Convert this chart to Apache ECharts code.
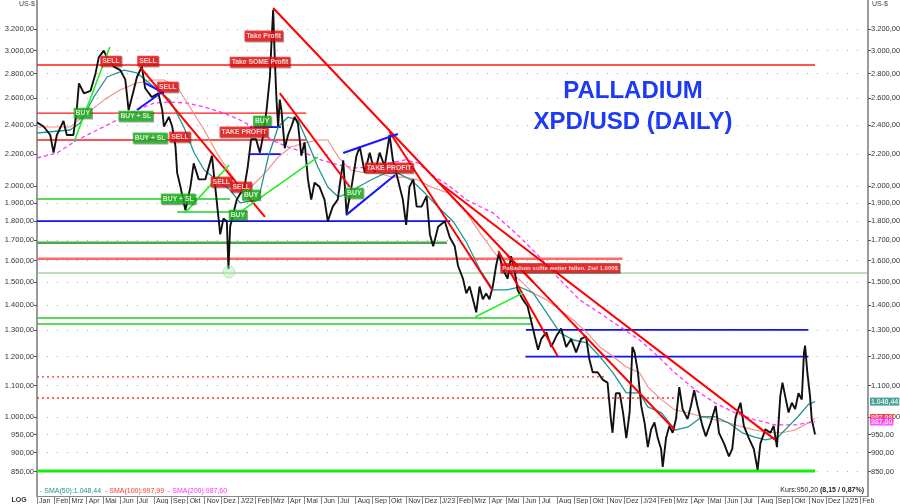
<!DOCTYPE html>
<html><head><meta charset="utf-8">
<script src="https://cdn.jsdelivr.net/npm/echarts@6/dist/echarts.min.js"></script>
<style>html,body{margin:0;padding:0;background:#fff}#c{width:900px;height:504px}</style>
</head><body><div id="c"></div>
<script>
// ---------- DATA ----------
const priceTicks = [850,900,950,1000,1100,1200,1300,1400,1500,1600,1700,1800,1900,2000,2200,2400,2600,2800,3000,3200];
const monthNames = ['Jan','Feb','Mrz','Apr','Mai','Jun','Jul','Aug','Sep','Okt','Nov','Dez'];

const price = [
['2021-01-01',2420],['2021-01-13',2390],['2021-01-25',2330],['2021-01-31',2210],['2021-02-06',2330],['2021-02-18',2430],['2021-02-24',2330],['2021-03-08',2330],['2021-03-14',2510],['2021-03-18',2720],['2021-03-27',2640],['2021-04-08',2660],['2021-04-17',2800],['2021-04-23',2940],['2021-05-02',3000],['2021-05-08',2940],['2021-05-20',2860],['2021-06-01',2830],['2021-06-10',2750],['2021-06-16',2510],['2021-06-25',2660],['2021-07-01',2770],['2021-07-10',2860],['2021-07-16',2680],['2021-07-28',2610],['2021-08-09',2640],['2021-08-16',2510],['2021-08-19',2390],['2021-08-28',2460],['2021-09-03',2390],['2021-09-09',2250],['2021-09-12',2080],['2021-09-18',1995],['2021-09-27',1860],['2021-10-06',1995],['2021-10-12',2140],['2021-10-21',2040],['2021-11-02',2040],['2021-11-14',2190],['2021-11-20',1995],['2021-11-26',1815],['2021-11-29',1730],['2021-12-05',1815],['2021-12-11',1800],['2021-12-14',1560],['2021-12-17',1770],['2021-12-29',1920],['2022-01-08',1975],
['2022-01-12',1995],['2022-01-18',2120],['2022-01-24',2300],['2022-02-02',2300],['2022-02-09',2210],['2022-02-15',2330],['2022-02-21',2510],['2022-02-27',2770],['2022-03-02',3080],['2022-03-05',3390],['2022-03-08',2920],['2022-03-11',2590],['2022-03-14',2390],['2022-03-17',2590],['2022-03-20',2510],['2022-03-26',2240],['2022-04-01',2330],['2022-04-07',2390],['2022-04-13',2460],['2022-04-19',2410],['2022-04-25',2190],['2022-05-01',2280],['2022-05-07',2040],['2022-05-13',1920],['2022-05-19',2020],['2022-05-28',1995],['2022-06-06',1920],['2022-06-12',1800],['2022-06-21',1880],['2022-06-30',1920],['2022-07-10',2160],['2022-07-16',1840],['2022-07-25',1995],['2022-08-03',2190],['2022-08-09',2250],['2022-08-18',2080],['2022-08-27',2210],['2022-09-05',2080],['2022-09-14',2210],['2022-09-23',2120],['2022-10-02',2330],['2022-10-08',2160],['2022-10-17',2040],['2022-10-26',1920],['2022-11-01',1780],['2022-11-07',1995],['2022-11-14',2040],['2022-11-20',1880],['2022-11-29',1880],['2022-12-08',1940],['2022-12-14',1730],['2022-12-20',1670],['2022-12-29',1770],
['2023-01-01',1780],['2023-01-10',1800],['2023-01-19',1715],['2023-01-28',1670],['2023-02-03',1575],['2023-02-12',1515],['2023-02-18',1450],['2023-02-24',1480],['2023-03-02',1425],['2023-03-08',1370],['2023-03-14',1480],['2023-03-20',1425],['2023-03-26',1450],['2023-04-01',1425],['2023-04-07',1480],['2023-04-13',1575],['2023-04-18',1635],['2023-04-25',1560],['2023-05-04',1515],['2023-05-10',1620],['2023-05-16',1560],['2023-05-22',1465],['2023-05-31',1425],['2023-06-09',1395],['2023-06-15',1340],['2023-06-22',1275],['2023-06-28',1225],['2023-07-04',1265],['2023-07-13',1290],['2023-07-22',1235],['2023-07-31',1275],['2023-08-09',1305],['2023-08-18',1235],['2023-08-27',1265],['2023-09-05',1215],['2023-09-14',1265],['2023-09-23',1275],['2023-09-29',1190],['2023-10-05',1145],['2023-10-14',1145],['2023-10-23',1120],['2023-11-01',1110],['2023-11-07',995],['2023-11-10',955],['2023-11-16',1075],['2023-11-23',1075],['2023-11-29',1015],['2023-12-05',940],['2023-12-11',1015],['2023-12-16',1235],['2023-12-20',1215],['2023-12-26',1145],
['2024-01-01',1035],['2024-01-07',985],['2024-01-13',915],['2024-01-19',965],['2024-01-25',985],['2024-01-31',940],['2024-02-06',910],['2024-02-09',862],['2024-02-15',940],['2024-02-21',975],['2024-02-27',955],['2024-03-04',995],['2024-03-10',1095],['2024-03-16',1025],['2024-03-25',995],['2024-03-31',1035],['2024-04-06',1085],['2024-04-12',1035],['2024-04-21',975],['2024-04-27',945],['2024-05-06',985],['2024-05-15',1035],['2024-05-21',955],['2024-05-30',925],['2024-06-08',890],['2024-06-14',910],['2024-06-20',1000],['2024-06-29',1045],['2024-07-05',975],['2024-07-14',940],['2024-07-23',910],['2024-07-30',855],['2024-08-04',925],['2024-08-13',965],['2024-08-22',955],['2024-08-28',975],['2024-09-03',915],['2024-09-09',1065],['2024-09-13',1110],['2024-09-18',1065],['2024-09-24',1015],['2024-09-30',1045],['2024-10-06',1025],['2024-10-12',1075],['2024-10-18',1055],['2024-10-22',1215],['2024-10-24',1240],['2024-10-28',1145],['2024-11-02',1065],['2024-11-05',995],['2024-11-11',950]
];

const sma50 = [
['2021-01-01',2344],['2021-03-02',2365],['2021-03-20',2415],['2021-04-14',2611],['2021-05-08',2772],['2021-06-08',2830],['2021-07-01',2806],['2021-08-01',2690],['2021-08-30',2587],['2021-09-24',2386],['2021-10-13',2208],['2021-10-31',2098],['2021-11-23',2036],['2021-12-17',1976],['2022-01-04',1901],['2022-02-06',1918],['2022-02-24',2181],['2022-03-14',2386],['2022-04-01',2459],['2022-04-19',2437],['2022-05-07',2275],['2022-05-25',2117],['2022-06-12',1994],['2022-07-01',1935],['2022-07-19',1958],['2022-08-06',1994],['2022-08-29',2036],['2022-09-24',2079],['2022-10-17',2079],['2022-11-10',2036],['2022-12-05',1958],['2022-12-29',1878],['2023-01-25',1800],['2023-02-19',1686],['2023-03-15',1555],['2023-04-08',1465],['2023-05-03',1465],['2023-05-26',1478],['2023-06-19',1452],['2023-07-14',1367],['2023-08-07',1288],['2023-08-31',1261],['2023-09-25',1250],['2023-10-18',1200],['2023-11-11',1143],['2023-12-05',1076],['2023-12-29',1076],['2024-01-13',1032],['2024-02-07',1014],['2024-03-02',963],['2024-03-26',972],['2024-04-20',1002],['2024-05-14',1002],['2024-06-07',984],['2024-07-02',955],['2024-07-25',943],['2024-08-13',935],['2024-09-05',943],['2024-09-23',972],['2024-10-11',1002],['2024-10-30',1040],['2024-11-11',1048.44]
];
const sma100 = [
['2021-01-01',2386],['2021-03-02',2386],['2021-04-02',2488],['2021-05-02',2587],['2021-05-31',2666],['2021-07-01',2722],['2021-08-01',2747],['2021-08-19',2747],['2021-09-12',2690],['2021-10-05',2534],['2021-10-31',2365],['2021-11-23',2208],['2021-12-17',2079],['2022-01-04',1994],['2022-01-24',1994],['2022-02-18',2079],['2022-03-14',2181],['2022-04-06',2248],['2022-05-02',2275],['2022-05-25',2295],['2022-06-12',2295],['2022-07-01',2181],['2022-07-24',2098],['2022-08-19',2079],['2022-09-11',2079],['2022-10-05',2054],['2022-10-30',2054],['2022-11-23',2036],['2022-12-16',1994],['2023-01-16',1958],['2023-02-19',1844],['2023-03-15',1737],['2023-04-08',1646],['2023-05-03',1555],['2023-05-26',1509],['2023-06-19',1452],['2023-07-14',1421],['2023-08-07',1380],['2023-08-31',1339],['2023-09-25',1288],['2023-10-18',1235],['2023-11-11',1200],['2023-12-05',1163],['2023-12-29',1143],['2024-01-13',1096],['2024-02-07',1054],['2024-03-02',1023],['2024-03-26',1014],['2024-04-20',1002],['2024-05-14',993],['2024-06-07',984],['2024-07-02',972],['2024-07-25',963],['2024-08-18',955],['2024-09-12',955],['2024-10-06',963],['2024-10-30',984],['2024-11-11',997.99]
];
const sma200 = [
['2021-01-01',2175],['2021-02-06',2208],['2021-03-15',2295],['2021-04-20',2365],['2021-05-26',2437],['2021-07-01',2511],['2021-08-01',2564],['2021-08-30',2572],['2021-09-30',2564],['2021-10-31',2534],['2021-12-06',2488],['2022-01-04',2437],['2022-02-06',2365],['2022-03-02',2295],['2022-04-01',2248],['2022-05-02',2208],['2022-05-31',2162],['2022-07-01',2130],['2022-07-31',2111],['2022-08-29',2117],['2022-09-29',2142],['2022-10-30',2162],['2022-11-23',2142],['2022-12-23',2054],['2023-01-16',2006],['2023-02-19',1918],['2023-04-08',1844],['2023-05-26',1717],['2023-07-01',1617],['2023-08-07',1509],['2023-09-12',1421],['2023-10-18',1367],['2023-11-24',1311],['2023-12-29',1261],['2024-01-25',1213],['2024-03-02',1143],['2024-04-08',1086],['2024-05-14',1044],['2024-06-19',1014],['2024-07-25',993],['2024-08-31',978],['2024-10-06',978],['2024-11-11',987.6]
];

// horizontal levels: [from, to, price]
const redLevels = [['2021-01-01','2024-11-11',2873],['2021-01-01','2022-05-04',2488],['2021-01-01','2022-05-04',2295]];
const lightRedLevels = [['2021-01-01','2023-11-28',1608]];
const redDottedLevels = [['2021-01-01','2023-10-30',1129],['2021-01-01','2024-03-10',1060]];
const blueLevels = [['2021-01-01','2023-01-20',1800],['2023-06-06','2024-10-30',1300],['2023-06-05','2024-10-30',1200],['2022-01-22','2022-03-19',2386],['2022-01-22','2022-03-19',2200]];
const greenLevels = [['2021-01-01','2021-12-17',1924],['2021-09-12','2022-01-17',1850],['2021-01-01','2023-06-19',1347],['2021-01-01','2023-06-19',1323]];
const darkGreenLevels = [['2021-01-01','2023-01-14',1687]];
const thinGreenLevels = [['2021-01-01','2025-02-15',1541]];
const brightGreenLevels = [['2021-01-01','2024-11-11',852]];

// trend lines: [fromDate, fromPrice, toDate, toPrice]
const redTrends = [
['2021-07-07',2856,'2022-02-18',1823],
['2022-03-05',3408,'2023-06-19',1500],
['2022-03-17',2642,'2022-07-22',1994],
['2022-10-02',2351,'2023-04-06',1465],
['2023-01-01',2016,'2024-08-31',935],
['2023-04-17',1646,'2023-08-03',1200],
['2023-05-03',1627,'2024-03-02',963]
];
const greenTrends = [
['2021-03-09',2282,'2021-05-13',3032],
['2021-09-26',1844,'2021-12-15',2130],
['2022-01-09',1861,'2022-05-25',2181],
['2023-03-06',1351,'2023-06-01',1452]
];
const blueTrends = [
['2021-07-16',2722,'2021-08-19',2642],
['2021-07-01',2511,'2021-08-16',2650],
['2022-07-10',2208,'2022-10-17',2337],
['2022-07-15',1833,'2022-10-12',2067]
];

// annotation tags: [date, price, text]
const redTags = [
['2021-05-15',2907,'SELL'],['2021-07-21',2907,'SELL'],['2021-08-26',2690,'SELL'],['2021-09-17',2316,'SELL'],
['2022-01-11',2351,'TAKE PROFIT'],['2021-12-01',2024,'SELL'],['2022-01-06',1994,'SELL'],
['2022-02-16',3134,'Take Profit'],['2022-02-09',2899,'Take SOME Profit'],['2022-10-01',2111,'TAKE PROFIT']
];
const noteTags = [['2023-08-07',1565,'Palladium sollte weiter fallen. Ziel 1.000$']];
const greenTags = [
['2021-03-25',2488,'BUY'],['2021-06-29',2466,'BUY + SL'],['2021-07-25',2309,'BUY + SL'],['2021-09-14',1924,'BUY + SL'],
['2022-01-24',1947,'BUY'],['2021-12-31',1833,'BUY'],['2022-02-13',2430,'BUY'],['2022-07-30',1958,'BUY']
];
const circleMarks = [['2021-12-15',1546]];
const lastValues = [['SMA(50)',1048.44,'#178a80'],['SMA(100)',997.99,'#ff2222'],['SMA(200)',987.60,'#ff33ff']];
const lastClose = '950,20', change = '(8,15 / 0,87%)';
const axisStart = '2021-01-01', axisEnd = '2025-02-15';

// ---------- CHART ----------
const L = Math.log;
const toXY = arr => arr.map(p => [p[0], L(p[1])]);
function fmtNum(n){
  let s = n.toFixed(2).replace('.', ',');
  const ip = s.split(',')[0];
  if (ip.length > 3) s = ip.slice(0, -3) + '.' + ip.slice(-3) + ',' + s.split(',')[1];
  return s;
}
function fmtDE(v){ return fmtNum(Math.round(Math.exp(v))); }
const series = [];
function seg(d1,p1,d2,p2,style,z){
  series.push({type:'line', data:[[d1,L(p1)],[d2,L(p2)]], symbol:'none', silent:true,
    lineStyle:style, z:z||3, animation:false});
}
redLevels.forEach(a=>seg(a[0],a[2],a[1],a[2],{color:'#ff1a1a',width:1.4},3));
lightRedLevels.forEach(a=>seg(a[0],a[2],a[1],a[2],{color:'#ff6a6a',width:2.5},3));
redDottedLevels.forEach(a=>seg(a[0],a[2],a[1],a[2],{color:'#ff2a2a',width:1.4,type:[2,3]},3));
blueLevels.forEach(a=>seg(a[0],a[2],a[1],a[2],{color:'#1010f0',width:1.8},3));
greenLevels.forEach(a=>seg(a[0],a[2],a[1],a[2],{color:'#22cc22',width:1.5},3));
darkGreenLevels.forEach(a=>seg(a[0],a[2],a[1],a[2],{color:'#4aa84a',width:2.5},3));
thinGreenLevels.forEach(a=>seg(a[0],a[2],a[1],a[2],{color:'#80b880',width:1},3));
brightGreenLevels.forEach(a=>seg(a[0],a[2],a[1],a[2],{color:'#11ee11',width:3},3));
redTrends.forEach(a=>seg(a[0],a[1],a[2],a[3],{color:'#ff0000',width:2},6));
greenTrends.forEach(a=>seg(a[0],a[1],a[2],a[3],{color:'#22ee22',width:1.6},6));
blueTrends.forEach(a=>seg(a[0],a[1],a[2],a[3],{color:'#1515ff',width:2},6));

series.push({type:'line', data:toXY(sma200), symbol:'none', silent:true, lineStyle:{color:'#ff33ff',width:1.3,type:[4,3]}, z:4});
series.push({type:'line', data:toXY(sma100), symbol:'none', silent:true, lineStyle:{color:'#f58a84',width:1.1}, z:4});
series.push({type:'line', data:toXY(sma50), symbol:'none', silent:true, lineStyle:{color:'#1f9590',width:1.3}, z:5});
series.push({type:'line', data:toXY(price), symbol:'none', silent:true, lineStyle:{color:'#111',width:1.9}, z:5});

series.push({type:'scatter', data:circleMarks.map(c=>[c[0],L(c[1])]), symbolSize:12, silent:true,
  itemStyle:{color:'rgba(170,235,170,0.55)', borderColor:'#7ccc7c', borderWidth:1, borderType:'dotted'}, z:7});

const clear = 'rgba(0,0,0,0)';
function tagSeries(tags,bg,fs,fw){
  series.push({type:'scatter', data:tags.map(t=>[t[0],L(t[1]),t[2]]), symbolSize:2, silent:true, clip:false,
    itemStyle:{color:clear}, z:20,
    label:{show:true, position:'inside', formatter:p=>p.value[2], color:'#fff', backgroundColor:bg,
      padding:[2,2,1,2], fontSize:fs, fontWeight:fw, fontFamily:'Liberation Sans', lineHeight:fs+1,
      shadowColor:'rgba(0,0,0,0.45)', shadowOffsetX:1, shadowOffsetY:1, shadowBlur:0}});
}
tagSeries(redTags,'#f01010',6.8,'bold');
tagSeries(greenTags,'#1db41d',6.8,'bold');
tagSeries(noteTags,'#f01010',6,'bold');

series.push({type:'scatter', symbolSize:2, silent:true, clip:false, itemStyle:{color:clear}, z:30,
  data:lastValues.map(v=>({value:[axisEnd,L(v[1]),v[1]], label:{backgroundColor:v[2]}})),
  label:{show:true, position:'right', distance:1, formatter:p=>fmtNum(p.value[2]),
    color:'#fff', fontSize:7, fontWeight:'bold', fontFamily:'Liberation Sans', padding:[1,1,0,1]}});

const ticksLn = priceTicks.map(L);
const yMin = L(790.3), yMax = L(3491);
const yCommon = {
  type:'value', min:yMin, max:yMax, scale:true,
  axisLine:{show:true, lineStyle:{color:'#9a9a9a', width:2}},
  axisTick:{show:true, length:3, customValues:ticksLn, lineStyle:{color:'#555'}},
  axisLabel:{customValues:ticksLn, formatter:fmtDE, fontSize:7.5, color:'#333', fontFamily:'Liberation Sans', margin:3}
};

const chart = echarts.init(document.getElementById('c'), null, {renderer:'canvas'});
chart.setOption({
  animation:false,
  backgroundColor:'#fff',
  grid:{left:37, right:32, top:0, bottom:8, containLabel:false, outerBoundsMode:'none'},
  xAxis:{type:'time', min:axisStart, max:axisEnd,
    minInterval:28*86400000, maxInterval:31*86400000,
    axisLine:{show:true, lineStyle:{color:'#888', width:1}},
    axisTick:{show:true, length:8, lineStyle:{color:'#888'}},
    axisLabel:{fontSize:7, color:'#333', fontFamily:'Liberation Sans', align:'left', margin:2, padding:[0,0,0,2],
      formatter:(v)=>{const d=new Date(v); const m=d.getMonth(); const y=d.getFullYear();
        if(m===0 && y>2021) return 'J/'+String(y).slice(2); return monthNames[m];}},
    splitLine:{show:false}},
  yAxis:[
    Object.assign({}, yCommon, {position:'left', splitLine:{show:true, lineStyle:{color:'#aaa', width:1, type:[1,9]}}}),
    Object.assign({}, yCommon, {position:'right', splitLine:{show:false}})
  ],
  graphic:[
    {type:'text', x:633, y:91, style:{text:'PALLADIUM', fill:'#1d3af5', font:'bold 24px "Liberation Sans"', textAlign:'center', textVerticalAlign:'middle'}},
    {type:'text', x:633, y:122, style:{text:'XPD/USD (DAILY)', fill:'#1d3af5', font:'bold 24px "Liberation Sans"', textAlign:'center', textVerticalAlign:'middle'}},
    {type:'text', x:35, y:4, style:{text:'US-$', fill:'#444', font:'7px "Liberation Sans"', textAlign:'right', textVerticalAlign:'middle'}},
    {type:'text', x:872, y:4, style:{text:'US-$', fill:'#444', font:'7px "Liberation Sans"', textAlign:'left', textVerticalAlign:'middle'}},
    {type:'text', x:19, y:500, style:{text:'LOG', fill:'#333', font:'bold 7px "Liberation Sans"', textAlign:'center', textVerticalAlign:'middle'}},
    {type:'text', x:40, y:491, style:{textVerticalAlign:'middle', font:'7px "Liberation Sans"',
      rich:{a:{fill:'#1f9590', fontSize:7}, b:{fill:'#ff3333', fontSize:7}, c:{fill:'#ff33ff', fontSize:7}},
      text:'{a|- '+lastValues[0][0]+':1.048,44}  {b|- '+lastValues[1][0]+':997,99}  {c|- '+lastValues[2][0]+':987,60}'}},
    {type:'text', x:864, y:490, style:{textAlign:'right', textVerticalAlign:'middle', font:'7px "Liberation Sans"',
      rich:{n:{fill:'#222', fontSize:7}, b:{fill:'#222', fontSize:7, fontWeight:'bold'}},
      text:'{n|Kurs:'+lastClose+' }{b|'+change+'}'}}
  ],
  series:series
});
</script></body></html>
